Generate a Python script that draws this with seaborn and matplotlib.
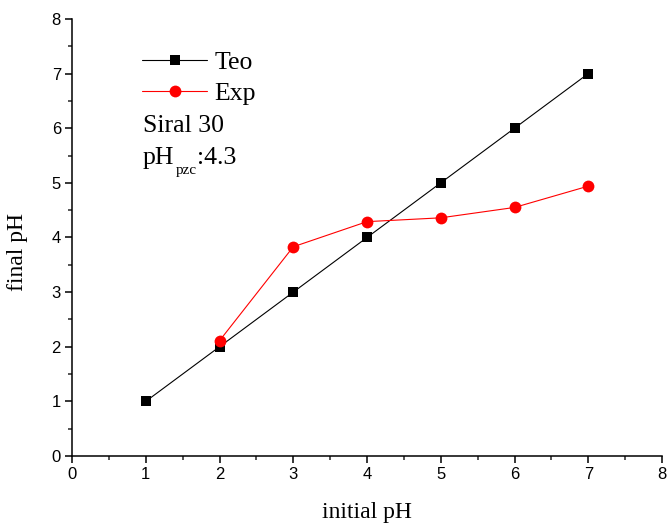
import matplotlib
matplotlib.use("Agg")
import matplotlib.pyplot as plt
from matplotlib.ticker import MultipleLocator
from matplotlib.transforms import offset_copy
import seaborn as sns
import pandas as pd

initial_ph = [1, 2, 3, 4, 5, 6, 7]
teo_final = [1, 2, 3, 4, 5, 6, 7]
exp_initial = [2, 3, 4, 5, 6, 7]
exp_final = [2.11, 3.83, 4.29, 4.36, 4.55, 4.94]

sns.set_style("ticks")
plt.rcParams["font.family"] = ["Liberation Sans", "DejaVu Sans"]
plt.rcParams["text.color"] = "black"
plt.rcParams["axes.labelcolor"] = "black"

serif = ["Liberation Serif", "DejaVu Serif"]

fig = plt.figure(figsize=(6.71, 5.27), dpi=100)
ax = fig.add_axes([0.1073, 0.1347, 0.8793, 0.8293])

teo = pd.DataFrame({"x": initial_ph, "y": teo_final})
exp = pd.DataFrame({"x": exp_initial, "y": exp_final})

sns.lineplot(data=teo, x="x", y="y", ax=ax, color="black", lw=0.8,
             marker="s", markersize=7, markeredgewidth=0, label="Teo")
sns.lineplot(data=exp, x="x", y="y", ax=ax, color="red", lw=0.8,
             marker="o", markersize=8.5, markeredgewidth=0, label="Exp")

ax.set_xlim(0, 8)
ax.set_ylim(0, 8)
ax.xaxis.set_major_locator(MultipleLocator(1))
ax.yaxis.set_major_locator(MultipleLocator(1))
ax.xaxis.set_minor_locator(MultipleLocator(0.5))
ax.yaxis.set_minor_locator(MultipleLocator(0.5))
ax.tick_params(which="major", direction="out", length=5, width=1.1,
               labelsize=12, colors="black", pad=3)
ax.tick_params(which="minor", direction="out", length=3, width=1.1)

sns.despine(ax=ax)
for side in ("left", "bottom"):
    ax.spines[side].set_linewidth(1.1)
    ax.spines[side].set_color("black")

ax.set_xlabel("initial pH", fontsize=17, family=serif, labelpad=14)
ax.set_ylabel("final pH", fontsize=17, family=serif)
ax.yaxis.set_label_coords(-0.075, 0.467)

leg = ax.legend(loc="upper left", bbox_to_anchor=(0.102, 0.95),
                frameon=False, prop={"family": serif, "size": 18.5},
                handlelength=2.5, handletextpad=0.3, labelspacing=0.3,
                borderaxespad=0)
for t in leg.get_texts():
    t.set_color("black")

ax.text(0.12, 0.741, "Siral 30", transform=ax.transAxes,
        fontsize=18.5, family=serif, va="baseline")

# pH with a small, lowered "pzc" subscript, followed by the value
fig.canvas.draw()
renderer = fig.canvas.get_renderer()
t1 = ax.text(0.12, 0.668, "pH", transform=ax.transAxes,
             fontsize=18.5, family=serif, va="baseline")
w1 = t1.get_window_extent(renderer).width * 72 / fig.dpi
sub_tr = offset_copy(ax.transAxes, fig=fig, x=w1 + 1, y=-7.5, units="points")
t2 = ax.text(0.12, 0.668, "pzc", transform=sub_tr,
             fontsize=11, family=serif, va="baseline")
w2 = t2.get_window_extent(renderer).width * 72 / fig.dpi
val_tr = offset_copy(ax.transAxes, fig=fig, x=w1 + 1 + w2, y=0, units="points")
ax.text(0.12, 0.668, ":4.3", transform=val_tr,
        fontsize=18.5, family=serif, va="baseline")

fig.savefig("out.png", dpi=100)
